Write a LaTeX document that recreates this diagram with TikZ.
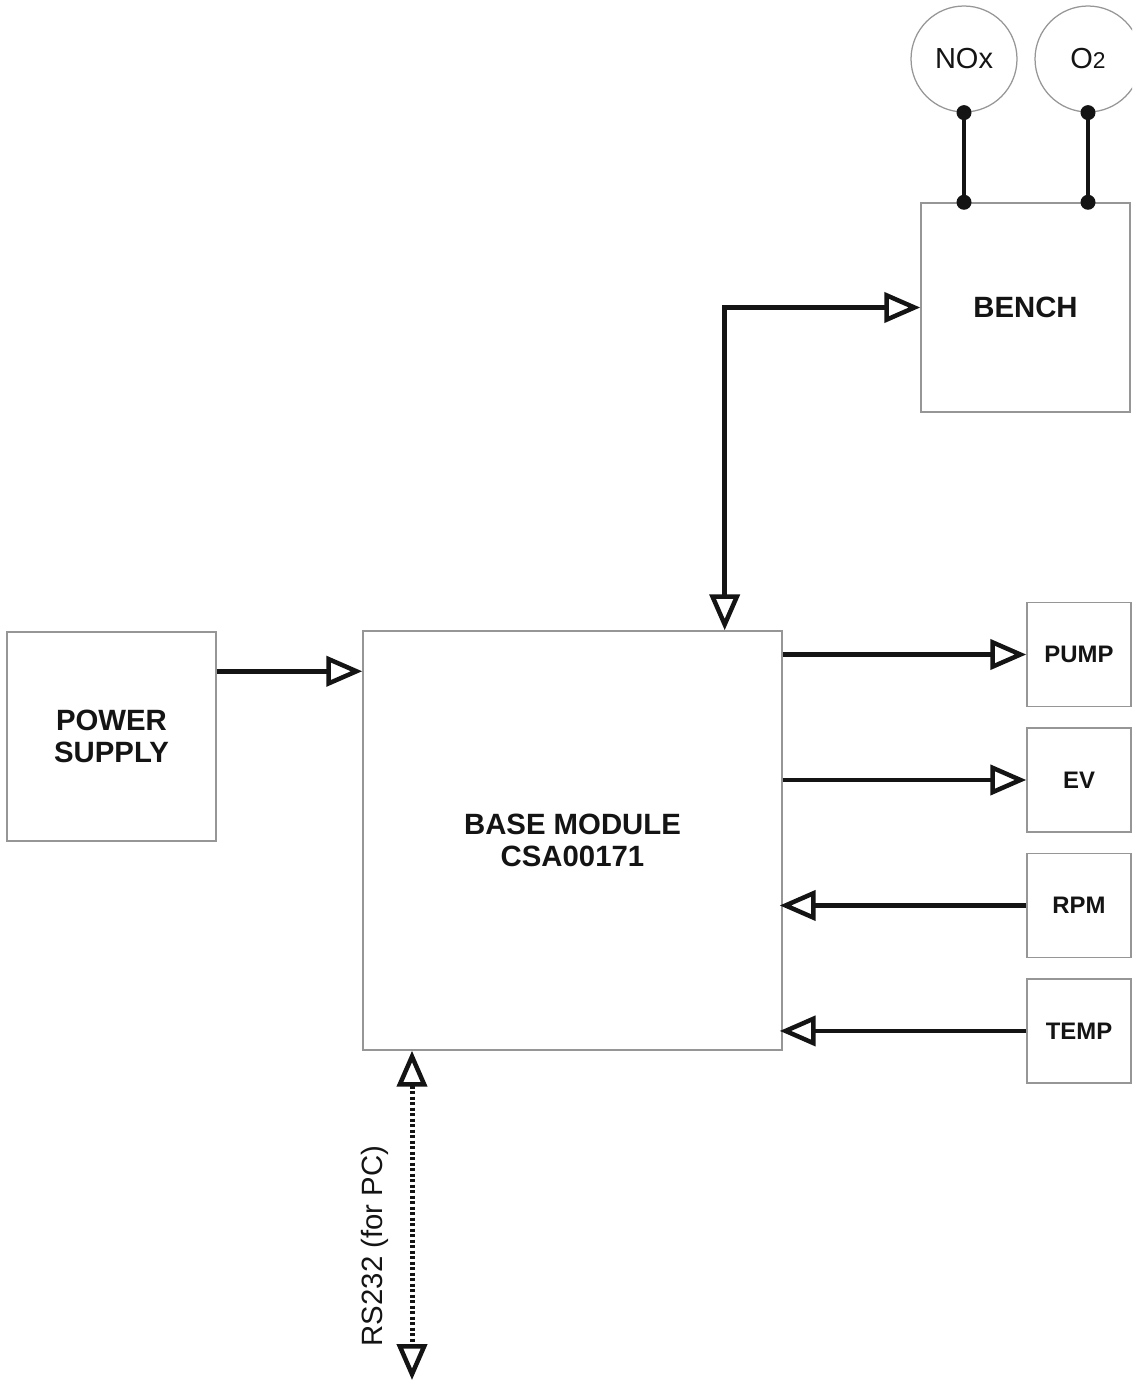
\documentclass[tikz,border=0pt]{standalone}
\usepackage{fontspec}
\setmainfont{Liberation Sans}
\usetikzlibrary{calc,arrows.meta,positioning}
\definecolor{frameGray}{RGB}{150,150,150}
\definecolor{inkBlack}{RGB}{20,20,20}
\newcommand{\BigFont}{\bfseries\fontsize{16.7}{18.5}\selectfont}
\newcommand{\SmallFont}{\bfseries\fontsize{13.6}{15}\selectfont}

\begin{document}
\begin{tikzpicture}[x=0.02cm,y=-0.02cm,
  >={Triangle[open,length=0.72cm,width=0.6cm,line width=0.09cm]},
  blk/.style={draw=frameGray,line width=0.03cm,inner sep=0pt,align=center,text=inkBlack,font=\BigFont},
  bigblk/.style={blk,minimum width=4.18cm,minimum height=4.18cm},
  smallblk/.style={blk,minimum width=2.08cm,minimum height=2.08cm,font=\SmallFont},
  sensor/.style={circle,draw=frameGray,line width=0.025cm,inner sep=0pt,minimum size=2.12cm,text=inkBlack,font=\fontsize{16.5}{18}\selectfont},
  link/.style={draw=inkBlack,line width=0.09cm},
  serial/.style={link,line width=0.1cm,dash pattern=on 0.06cm off 0.05cm},
  wire/.style={draw=inkBlack,line width=0.065cm}]
\useasboundingbox (0,0) rectangle (1132,1382);
\clip (0,0) rectangle (1132,1382);

% blocks
\node[bigblk] (bench) at (1025.5,307.5) {BENCH};
\node[bigblk] (power) at (111.5,736.5) {POWER\\SUPPLY};
\node[blk,minimum width=8.38cm,minimum height=8.38cm] (base) at (572.5,840.5) {BASE MODULE\\CSA00171};
\node[smallblk] (pump) at (1079,654.5) {PUMP};
\node[smallblk,below=0.4cm of pump] (ev) {EV};
\node[smallblk,below=0.4cm of ev] (rpm) {RPM};
\node[smallblk,below=0.4cm of rpm] (temp) {TEMP};

% sensors
\node[sensor] (nox) at (964,59) {NOx};
\node[sensor] (otwo) at (1088,59) {O{\fontsize{13}{13}\selectfont 2}};
\foreach \s in {nox,otwo}{
  \draw[wire] (\s.south) -- (\s.south |- bench.north);
  \fill[inkBlack] (\s.south) circle (0.15cm) (\s.south |- bench.north) circle (0.15cm);
}

% links
\coordinate (benchport) at ($(base.north west)!0.862!(base.north east)$);
\draw[link,<->] (bench.west) -| (benchport);
\coordinate (pwrport) at ($(power.north east)!0.19!(power.south east)$);
\draw[link,->] (pwrport) -- (pwrport -| base.west);
\foreach \m in {pump,ev}{
  \draw[link,->] (base.east |- \m.west) -- (\m.west);
}
\foreach \m in {rpm,temp}{
  \draw[link,->] (\m.west) -- ([xshift=-0.06cm]base.east |- \m.west);
}
\coordinate (pcport) at (412,1380);
\draw[serial,<->] (pcport |- base.south) -- (pcport);
\node[rotate=90,anchor=base,text=inkBlack,font=\fontsize{16.7}{18}\selectfont] (pclabel) at (382,1246) {RS232 (for PC)};
\end{tikzpicture}
\end{document}
